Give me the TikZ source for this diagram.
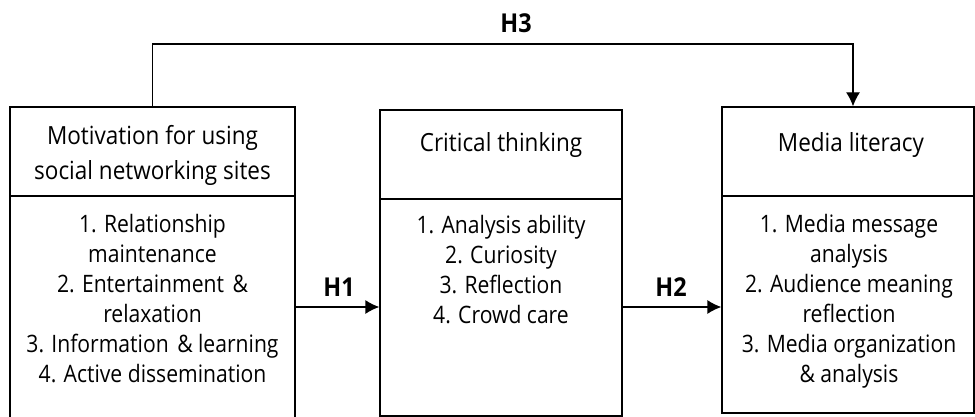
\documentclass[tikz,border=0pt]{standalone}
\usepackage{fontspec}
\setmainfont{Open Sans}
\newfontfamily\bodyfont{Open Sans}[FakeStretch=0.88]
\newfontfamily\headfont{Open Sans}[FakeStretch=0.9]
\usetikzlibrary{arrows.meta}
\tikzset{
  box/.style={draw, line width=1.3pt, rectangle, inner sep=0pt},
  bodytext/.style={align=center, inner sep=0pt, anchor=north, font=\bodyfont\fontsize{24}{30}\selectfont},
  headtext/.style={align=center, inner sep=0pt, font=\headfont\fontsize{25}{35}\selectfont},
  hyp/.style={font=\headfont\fontsize{26}{28}\selectfont\bfseries, inner sep=0pt},
  conn/.style={line width=1.3pt, -{Latex[length=14pt,width=14pt]}},
  divider/.style={line width=1.3pt}
}
\begin{document}
\begin{tikzpicture}[x=1pt,y=-1pt]
\useasboundingbox (0,0) rectangle (975,417);
% boxes
\node[box, minimum width=285pt, minimum height=316pt] (L) at (152.5,265) {};
\node[box, minimum width=242pt, minimum height=306pt] (M) at (501,263) {};
\node[box, minimum width=252pt, minimum height=306pt] (R) at (848,260) {};
% divider levels
\coordinate (dL) at (0,196);
\coordinate (dM) at (0,199);
\coordinate (dR) at (0,196);
\draw[divider] (L.west |- dL) -- (L.east |- dL);
\draw[divider] (M.west |- dM) -- (M.east |- dM);
\draw[divider] (R.west |- dR) -- (R.east |- dR);
% headings
\node[headtext] (Lh) at (152.5,155) {Motivation for using\\social networking sites};
\node[headtext] (Mh) at (501,145) {Critical thinking};
\node[headtext] (Rh) at (851,145) {Media literacy};
% bodies
\node[bodytext] (Lb) at (152.5,214) {1. Relationship\\maintenance\\2. Entertainment\hspace{3pt} \&\\relaxation\\3. Information\hspace{3pt} \& learning\\4. Active dissemination};
\node[bodytext] (Mb) at (501,215) {1. Analysis ability\\2. Curiosity\\3. Reflection\\4. Crowd care};
\node[bodytext] (Rb) at (849,214) {1. Media message\\analysis\\2. Audience meaning\\reflection\\3. Media organization\\\& analysis};
% connectors
\coordinate (h1y) at (0,307);
\coordinate (h3y) at (500,44);
\draw[conn] (L.east |- h1y) -- (M.west |- h1y);
\draw[conn] (M.east |- h1y) -- (R.west |- h1y);
\draw[conn] (L.north) |- (h3y) -| ([xshift=5pt]R.north);
% labels
\node[hyp] (H1) at (339,287) {H1};
\node[hyp] (H2) at (671,287) {H2};
\node[hyp] (H3) at (516,23) {H3};
\end{tikzpicture}
\end{document}
